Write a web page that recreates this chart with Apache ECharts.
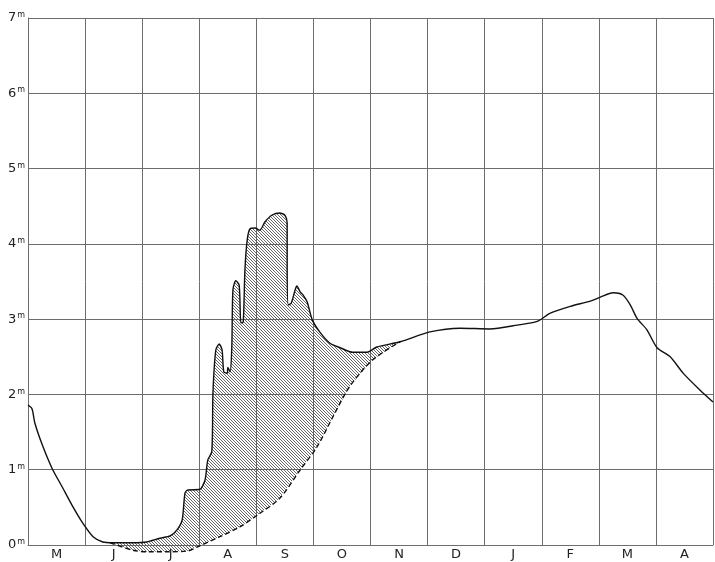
<!DOCTYPE html>
<html>
<head>
<meta charset="utf-8">
<script src="https://cdn.jsdelivr.net/npm/echarts@6/dist/echarts.min.js"></script>
<style>
  html, body { margin: 0; padding: 0; background: #fff; }
  #chart { width: 715px; height: 562px; }
</style>
</head>
<body>
<div id="chart"></div>
<script>
// Month initials along the bottom (May through April)
const months = ['M', 'J', 'J', 'A', 'S', 'O', 'N', 'D', 'J', 'F', 'M', 'A'];
// Water level in metres; axis values
const levelTicks = [0, 1, 2, 3, 4, 5, 6, 7];

// Observed stage: [month offset from 1 May, metres]
const stage = [
  [0.00, 1.86], [0.07, 1.81], [0.12, 1.62], [0.25, 1.33], [0.42, 1.02],
  [0.60, 0.77], [0.77, 0.53], [0.96, 0.29], [1.14, 0.11], [1.31, 0.04],
  [1.49, 0.03], [1.84, 0.03], [2.08, 0.04], [2.31, 0.09], [2.49, 0.12],
  [2.61, 0.20], [2.70, 0.33], [2.75, 0.69], [2.80, 0.73], [3.01, 0.74],
  [3.10, 0.86], [3.15, 1.13], [3.22, 1.24], [3.24, 2.02], [3.29, 2.59],
  [3.35, 2.67], [3.40, 2.59], [3.43, 2.30], [3.49, 2.28], [3.50, 2.36],
  [3.54, 2.30], [3.57, 2.62], [3.59, 3.39], [3.64, 3.51], [3.70, 3.45],
  [3.73, 2.95], [3.77, 2.96], [3.80, 3.65], [3.84, 4.05], [3.89, 4.20],
  [3.98, 4.21], [4.06, 4.18], [4.15, 4.29], [4.27, 4.38], [4.41, 4.41],
  [4.50, 4.38], [4.54, 4.28], [4.54, 3.75], [4.56, 3.19], [4.61, 3.21],
  [4.68, 3.39], [4.71, 3.44], [4.77, 3.36], [4.82, 3.32], [4.89, 3.23],
  [4.98, 2.99], [5.12, 2.82], [5.29, 2.68], [5.47, 2.62], [5.69, 2.56],
  [5.94, 2.56], [6.11, 2.63], [6.52, 2.70], [7.04, 2.83], [7.57, 2.88],
  [8.09, 2.87], [8.57, 2.92], [8.92, 2.97], [9.15, 3.08], [9.50, 3.17],
  [9.85, 3.24], [10.02, 3.29], [10.25, 3.35], [10.42, 3.32], [10.55, 3.19],
  [10.67, 3.01], [10.84, 2.86], [11.02, 2.62], [11.25, 2.50], [11.48, 2.28],
  [11.77, 2.06], [12.00, 1.90]
];

// Base level under the summer flood (dashed)
const baseLevel = [
  [1.44, 0.03], [1.84, -0.07], [2.08, -0.09], [2.44, -0.09], [2.79, -0.08],
  [3.01, -0.01], [3.36, 0.11], [3.71, 0.24], [4.06, 0.42], [4.41, 0.62],
  [4.77, 1.00], [5.06, 1.30], [5.34, 1.70], [5.64, 2.11], [6.04, 2.46],
  [6.52, 2.70]
];

// Outline of the flood excess: stage on top, base level underneath
const x0 = baseLevel[0][0];
const x1 = baseLevel[baseLevel.length - 1][0];
const floodOutline = [baseLevel[0]]
  .concat(stage.filter(p => p[0] > x0 && p[0] < x1))
  .concat(baseLevel.slice().reverse());

// Diagonal hatch tile
function hatchTile() {
  const s = 3;
  const c = document.createElement('canvas');
  c.width = s; c.height = s;
  const g = c.getContext('2d');
  g.strokeStyle = '#4a4a4a';
  g.lineWidth = 0.85;
  g.beginPath();
  g.moveTo(-1, -1); g.lineTo(s + 1, s + 1);
  g.moveTo(-1, s - 1); g.lineTo(1, s + 1);
  g.moveTo(s - 1, -1); g.lineTo(s + 1, 1);
  g.stroke();
  return { image: c, repeat: 'repeat' };
}
const hatch = hatchTile();

const chart = echarts.init(document.getElementById('chart'), null, { renderer: 'canvas' });
const gridColor = '#6d6d6d';
const textColor = '#222';

chart.setOption({
  animation: false,
  backgroundColor: '#fff',
  grid: { left: 28, right: 2, top: 18, bottom: 17, containLabel: false },
  xAxis: [
    {
      type: 'value', min: 0, max: 12, interval: 1,
      axisLine: { show: true, lineStyle: { color: gridColor, width: 1 } },
      axisTick: { show: false },
      axisLabel: { show: false },
      splitLine: { show: true, lineStyle: { color: gridColor, width: 1 } }
    },
    {
      type: 'category', data: months, position: 'bottom', boundaryGap: true,
      axisLine: { show: false }, axisTick: { show: false },
      splitLine: { show: false },
      axisLabel: {
        show: true, margin: 3, color: textColor,
        fontFamily: 'DejaVu Sans', fontSize: 13
      }
    }
  ],
  yAxis: {
    type: 'value', min: levelTicks[0], max: levelTicks[levelTicks.length - 1], interval: 1,
    axisLine: { show: true, lineStyle: { color: gridColor, width: 1 } },
    axisTick: { show: false },
    splitLine: { show: true, lineStyle: { color: gridColor, width: 1 } },
    axisLabel: {
      margin: 3, color: textColor,
      formatter: v => '{n|' + v + '}{m|m}',
      rich: {
        n: { fontFamily: 'DejaVu Sans', fontSize: 13, color: textColor, lineHeight: 14 },
        m: { fontFamily: 'DejaVu Sans', fontSize: 8, color: textColor, verticalAlign: 'top', lineHeight: 14, padding: [0, 0, 6, 1] }
      }
    }
  },
  series: [
    {
      type: 'custom',
      xAxisIndex: 0, yAxisIndex: 0,
      silent: true, z: 1,
      data: [[0, 0]],
      encode: { x: 0, y: 1 },
      renderItem: function (params, api) {
        const pts = floodOutline.map(p => api.coord(p));
        return {
          type: 'polygon',
          shape: { points: pts },
          style: { fill: hatch, stroke: null }
        };
      }
    },
    {
      type: 'line',
      xAxisIndex: 0, yAxisIndex: 0,
      data: baseLevel,
      showSymbol: false, smooth: 0.3, clip: false, z: 3,
      lineStyle: { color: '#111', width: 1.4, type: [5, 3] }
    },
    {
      type: 'line',
      xAxisIndex: 0, yAxisIndex: 0,
      data: stage,
      showSymbol: false, smooth: 0.25, clip: false, z: 4,
      lineStyle: { color: '#111', width: 1.4 }
    }
  ]
});
</script>
</body>
</html>
